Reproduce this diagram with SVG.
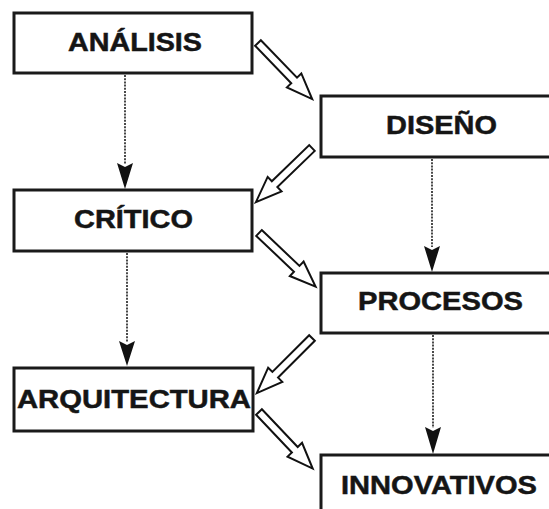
<svg xmlns="http://www.w3.org/2000/svg" width="549" height="509" viewBox="0 0 549 509">
<style>
.box{fill:#fff;stroke:#1a1a1a;stroke-width:3}
.lbl{font-family:"Liberation Sans",Arial,sans-serif;font-weight:bold;font-size:26px;fill:#151515;stroke:#151515;stroke-width:0.5;text-anchor:middle}
.dot{stroke:#2a2a2a;stroke-width:1.7;stroke-dasharray:2 1.2;fill:none}
.hollow{fill:#fff;stroke:#111;stroke-width:2;stroke-linejoin:miter}
</style>
<defs>
<path id="harrow" d="M0,-4 L52,-4 L52,-10 L78,0 L52,10 L52,4 L0,4 Z"/>
</defs>
<rect width="549" height="509" fill="#fff"/>
<g id="connectors">
<line class="dot" x1="125" y1="75" x2="125" y2="164"/>
<path d="M117,163 L125,167 L133,163 L125,189 Z" fill="#111"/>
<line class="dot" x1="127" y1="253" x2="127" y2="342"/>
<path d="M119,341 L127,345 L135,341 L127,366 Z" fill="#111"/>
<line class="dot" x1="432" y1="159" x2="432" y2="247"/>
<path d="M424,246 L432,250 L440,246 L432,272 Z" fill="#111"/>
<line class="dot" x1="433" y1="335" x2="433" y2="428"/>
<path d="M425,427 L433,431 L441,427 L433,454 Z" fill="#111"/>
<use href="#harrow" class="hollow" transform="translate(258,43) rotate(46)"/>
<use href="#harrow" class="hollow" transform="translate(312,148) rotate(136)"/>
<use href="#harrow" class="hollow" transform="translate(259,233) rotate(43.5)"/>
<use href="#harrow" class="hollow" transform="translate(312,338) rotate(135)"/>
<use href="#harrow" class="hollow" transform="translate(259,412) rotate(46.5)"/>
</g>
<g id="analisis">
<rect class="box" x="14" y="13" width="238" height="60"/>
<text class="lbl" x="135" y="51" textLength="134" lengthAdjust="spacingAndGlyphs">ANÁLISIS</text>
</g>
<g id="diseno">
<rect class="box" x="321" y="96" width="232" height="61"/>
<text class="lbl" x="441.5" y="134" textLength="111" lengthAdjust="spacingAndGlyphs">DISEÑO</text>
</g>
<g id="critico">
<rect class="box" x="14" y="190" width="238" height="61"/>
<text class="lbl" x="133.5" y="228" textLength="119" lengthAdjust="spacingAndGlyphs">CRÍTICO</text>
</g>
<g id="procesos">
<rect class="box" x="321" y="273" width="232" height="60"/>
<text class="lbl" x="440.5" y="310" textLength="165" lengthAdjust="spacingAndGlyphs">PROCESOS</text>
</g>
<g id="arquitectura">
<rect class="box" x="14" y="368" width="239" height="63"/>
<text class="lbl" x="134" y="408" textLength="234" lengthAdjust="spacingAndGlyphs">ARQUITECTURA</text>
</g>
<g id="innovativos">
<rect class="box" x="321" y="455" width="232" height="60"/>
<text class="lbl" x="439" y="494" textLength="196" lengthAdjust="spacingAndGlyphs">INNOVATIVOS</text>
</g>
</svg>
